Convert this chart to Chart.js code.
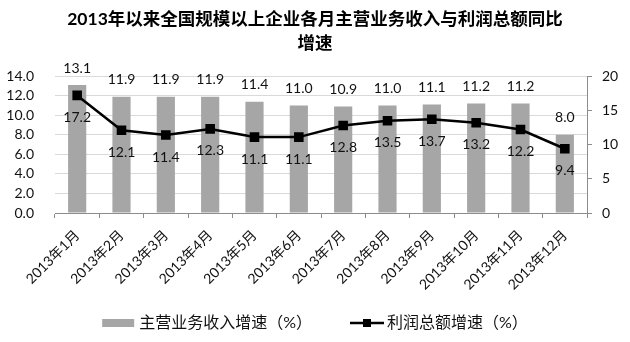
<!DOCTYPE html>
<html><head><meta charset="utf-8">
<script src="https://cdn.jsdelivr.net/npm/chart.js@4/dist/chart.umd.min.js"></script>
<style>html,body{margin:0;padding:0;background:#fff;overflow:hidden}</style>
</head><body>
<canvas id="c" width="630" height="342"></canvas>
<script>
const titleLines = ['2013年以来全国规模以上企业各月主营业务收入与利润总额同比', '增速'];
const categories = ['2013年1月','2013年2月','2013年3月','2013年4月','2013年5月','2013年6月','2013年7月','2013年8月','2013年9月','2013年10月','2013年11月','2013年12月'];
const revenueGrowth = [13.1, 11.9, 11.9, 11.9, 11.4, 11.0, 10.9, 11.0, 11.1, 11.2, 11.2, 8.0];
const profitGrowth = [17.2, 12.1, 11.4, 12.3, 11.1, 11.1, 12.8, 13.5, 13.7, 13.2, 12.2, 9.4];
const seriesNames = ['主营业务收入增速（%）', '利润总额增速（%）'];
const leftAxis = {min: 0, max: 14, step: 2};
const rightAxis = {min: 0, max: 20, step: 5};

const FONT = "Lato, 'Noto Sans CJK SC', sans-serif";
const BAR_COLOR = '#a6a6a6';

const valueLabels = {
  id: 'valueLabels',
  afterDatasetsDraw(chart) {
    const ctx = chart.ctx;
    ctx.save();
    ctx.font = '14px ' + FONT;
    ctx.fillStyle = '#111';
    ctx.textAlign = 'center';
    ctx.textBaseline = 'middle';
    chart.getDatasetMeta(0).data.forEach((el, i) => {
      ctx.fillText(revenueGrowth[i].toFixed(1), el.x, el.y - 17);
    });
    chart.getDatasetMeta(1).data.forEach((el, i) => {
      ctx.fillText(profitGrowth[i].toFixed(1), el.x, el.y + 22);
    });
    ctx.restore();
  }
};

const bottomLegend = {
  id: 'bottomLegend',
  afterDraw(chart) {
    const ctx = chart.ctx;
    ctx.save();
    ctx.font = '16px ' + FONT;
    ctx.textBaseline = 'middle';
    ctx.textAlign = 'left';
    const w1 = ctx.measureText(seriesNames[0]).width;
    const w2 = ctx.measureText(seriesNames[1]).width;
    const total = 32 + 5 + w1 + 38 + 34 + 3 + w2;
    let x = chart.width / 2 - total / 2;
    const y = 323;
    ctx.fillStyle = BAR_COLOR;
    ctx.fillRect(x, y - 4, 32, 8);
    x += 37;
    ctx.fillStyle = '#111';
    ctx.fillText(seriesNames[0], x, y);
    x += w1 + 38;
    ctx.strokeStyle = '#000'; ctx.lineWidth = 2.5;
    ctx.beginPath(); ctx.moveTo(x, y); ctx.lineTo(x + 34, y); ctx.stroke();
    ctx.fillStyle = '#000'; ctx.fillRect(x + 13, y - 4, 8, 8);
    x += 37;
    ctx.fillStyle = '#111';
    ctx.fillText(seriesNames[1], x, y);
    ctx.restore();
  }
};

new Chart(document.getElementById('c'), {
  data: {
    labels: categories,
    datasets: [
      {type: 'bar', label: seriesNames[0], data: revenueGrowth, yAxisID: 'y',
       backgroundColor: BAR_COLOR, barPercentage: 0.41, categoryPercentage: 1, order: 2},
      {type: 'line', label: seriesNames[1], data: profitGrowth, yAxisID: 'y1',
       borderColor: '#000', borderWidth: 2.5, backgroundColor: '#000',
       pointStyle: 'rect', pointRadius: 5, pointBackgroundColor: '#000', pointBorderColor: '#000',
       tension: 0, order: 1}
    ]
  },
  options: {
    responsive: false,
    devicePixelRatio: 1,
    animation: false,
    layout: {padding: {left: 0, right: 0, top: 0, bottom: 45}},
    plugins: {
      title: {display: true, text: titleLines, color: '#000',
        font: {family: FONT, size: 17.5, weight: 'bold', lineHeight: 1.35},
        padding: {top: 8, bottom: 21}},
      legend: {display: false},
      tooltip: {enabled: false}
    },
    scales: {
      x: {
        offset: true,
        grid: {offset: true, drawOnChartArea: false, drawTicks: true, tickLength: 5, color: '#8c8c8c'},
        border: {display: true, color: '#8c8c8c'},
        ticks: {color: '#111', font: {family: FONT, size: 14}, maxRotation: 45, minRotation: 45, padding: 9, autoSkip: false},
        afterFit(s) { s.height = 84; }
      },
      y: {
        position: 'left', min: leftAxis.min, max: leftAxis.max,
        grid: {color: '#d9d9d9', drawTicks: false},
        border: {display: false},
        ticks: {stepSize: leftAxis.step, autoSkip: false, color: '#111', font: {family: FONT, size: 14}, padding: 21,
          callback: v => Number(v).toFixed(1)},
        afterFit(s) { s.width = 55; }
      },
      y1: {
        position: 'right', min: rightAxis.min, max: rightAxis.max,
        grid: {drawOnChartArea: false, drawTicks: true, tickLength: 5, color: '#8c8c8c'},
        border: {display: true, color: '#8c8c8c'},
        ticks: {stepSize: rightAxis.step, autoSkip: false, color: '#111', font: {family: FONT, size: 14}, padding: 10},
        afterFit(s) { s.width = 43; }
      }
    }
  },
  plugins: [valueLabels, bottomLegend]
});
</script>
</body></html>
